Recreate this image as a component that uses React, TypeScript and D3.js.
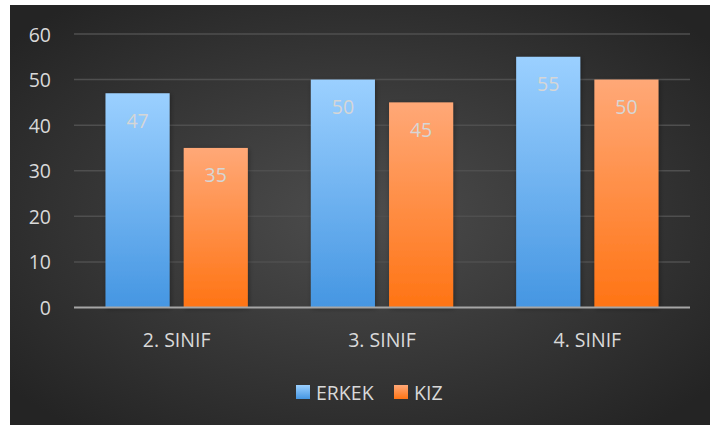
import React from "react";
import * as d3 from "d3";

const categories = ["2. SINIF", "3. SINIF", "4. SINIF"];
const seriesNames = ["ERKEK", "KIZ"];
const erkekValues = [47, 50, 55];
const kizValues = [35, 45, 50];
const yTicks = [0, 10, 20, 30, 40, 50, 60];

const W = 710;
const H = 425;

export default function App() {
  const x0 = d3.scaleBand().domain(categories).range([74, 690]).paddingInner(0).paddingOuter(0);
  const x1 = d3.scaleBand().domain(seriesNames).range([31.5, x0.bandwidth() - 31.5]).paddingInner(0.18).paddingOuter(0);
  const y = d3.scaleLinear().domain([0, 60]).range([307.5, 34]);
  const series = [erkekValues, kizValues];
  const fills = ["url(#gBlue)", "url(#gOrange)"];
  const legendFills = ["url(#gBlueL)", "url(#gOrangeL)"];
  const font = "'Open Sans', 'Noto Sans', sans-serif";
  const fs = 19.5;

  return (
    <div style={{ position: "fixed", left: 0, top: 0, width: W, height: H, background: "#fff" }}>
      <svg width={W} height={H} style={{ display: "block" }}>
        <defs>
          <radialGradient id="bg" cx="0.5" cy="0.5" r="0.65">
            <stop offset="0" stopColor="#4d4d4d" />
            <stop offset="1" stopColor="#242424" />
          </radialGradient>
          <linearGradient id="gBlue" x1="0" y1="0" x2="0" y2="1">
            <stop offset="0" stopColor="#9bd0ff" />
            <stop offset="1" stopColor="#4596e2" />
          </linearGradient>
          <linearGradient id="gOrange" x1="0" y1="0" x2="0" y2="1">
            <stop offset="0" stopColor="#ffa877" />
            <stop offset="1" stopColor="#ff7414" />
          </linearGradient>
          <linearGradient id="gBlueL" x1="0" y1="0" x2="0" y2="1">
            <stop offset="0" stopColor="#9bd0ff" />
            <stop offset="1" stopColor="#4596e2" />
          </linearGradient>
          <linearGradient id="gOrangeL" x1="0" y1="0" x2="0" y2="1">
            <stop offset="0" stopColor="#ffa877" />
            <stop offset="1" stopColor="#ff7414" />
          </linearGradient>
          <filter id="sh" x="-20%" y="-20%" width="140%" height="140%">
            <feDropShadow dx="1" dy="1" stdDeviation="2.5" floodColor="#000" floodOpacity="0.35" />
          </filter>
        </defs>
        <rect x={10} y={5} width={W - 10} height={H - 5} fill="url(#bg)" />
        {yTicks.filter((t) => t !== 0).map((t) => (
          <line key={t} x1={74} x2={690} y1={y(t)} y2={y(t)} stroke="#4f4f4f" strokeWidth={1.5} />
        ))}
        {yTicks.map((t) => (
          <text key={"l" + t} x={51} y={y(t)} textAnchor="end" dominantBaseline="central" fill="#d9d9d9" fontSize={fs} fontFamily={font}>
            {t}
          </text>
        ))}
        {categories.map((c, ci) => (
          <g key={c} transform={`translate(${x0(c)},0)`}>
            {seriesNames.map((s, si) => {
              const v = series[si][ci];
              const bx = x1(s)!;
              const bw = x1.bandwidth();
              return (
                <g key={s}>
                  <rect x={bx} y={y(v)} width={bw} height={y(0) - y(v)} fill={fills[si]} filter="url(#sh)" />
                  <text x={bx + bw / 2} y={y(v) + 27} textAnchor="middle" dominantBaseline="central" fill="#d6d6d6" fontSize={fs} fontFamily={font}>
                    {v}
                  </text>
                </g>
              );
            })}
            <text x={x0.bandwidth() / 2} y={339} textAnchor="middle" dominantBaseline="central" fill="#d9d9d9" fontSize={fs} fontFamily={font}>
              {c}
            </text>
          </g>
        ))}
        <line x1={74} x2={690} y1={y(0)} y2={y(0)} stroke="#a6a6a6" strokeWidth={2} />
        <g>
          {[
            { x: 296, tx: 316 },
            { x: 394, tx: 414 },
          ].map((p, i) => (
            <g key={i}>
              <rect x={p.x} y={385} width={14} height={14} fill={legendFills[i]} />
              <text x={p.tx} y={392} dominantBaseline="central" fill="#d9d9d9" fontSize={fs} fontFamily={font}>
                {seriesNames[i]}
              </text>
            </g>
          ))}
        </g>
      </svg>
    </div>
  );
}
